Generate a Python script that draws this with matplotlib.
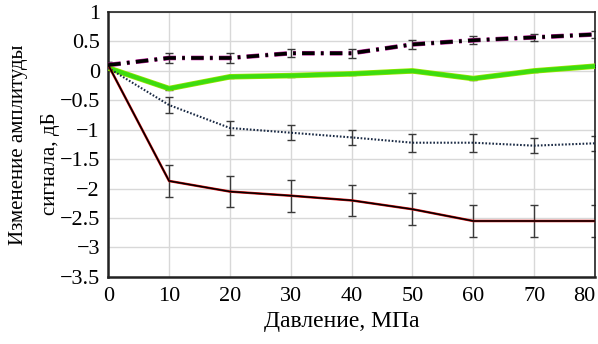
import matplotlib
matplotlib.use('Agg')
import matplotlib.pyplot as plt
import numpy as np

# pressure, MPa
pressure = [0, 10, 20, 30, 40, 50, 60, 70, 80]

# amplitude change, dB
dashdot_vals = [0.1, 0.22, 0.22, 0.3, 0.3, 0.45, 0.52, 0.57, 0.62]
dashdot_err = [0.05, 0.08, 0.08, 0.07, 0.08, 0.07, 0.07, 0.06, 0.06]

green_vals = [0.05, -0.3, -0.1, -0.08, -0.05, 0.0, -0.13, 0.0, 0.08]
green_err = [0.02, 0.02, 0.02, 0.02, 0.02, 0.02, 0.02, 0.02, 0.02]

dotted_vals = [0.05, -0.58, -0.97, -1.05, -1.13, -1.22, -1.22, -1.27, -1.23]
dotted_err = [0.05, 0.13, 0.12, 0.13, 0.13, 0.15, 0.15, 0.13, 0.13]

solid_vals = [0.1, -1.87, -2.05, -2.12, -2.2, -2.35, -2.55, -2.55, -2.55]
solid_err = [0.05, 0.27, 0.27, 0.27, 0.27, 0.27, 0.27, 0.27, 0.27]

ytick_labels = ['\u22123.5', '\u22123', '\u22122.5', '\u22122', '\u22121.5', '\u22121',
                '\u22120.5', '0', '0.5', '1']

plt.rcParams['font.family'] = ['Liberation Serif', 'DejaVu Serif']
plt.rcParams['lines.scale_dashes'] = False

fig = plt.figure(figsize=(5.98, 3.44), dpi=100)
ax = fig.add_axes([0.181, 0.195, 0.814, 0.77])

ekw = dict(ecolor='#3a3a3a', elinewidth=1.0, capsize=3, capthick=1.0, fmt='none', zorder=2)
ax.errorbar(pressure, dashdot_vals, yerr=dashdot_err, **ekw)
ax.errorbar(pressure, green_vals, yerr=green_err, **ekw)
ax.errorbar(pressure, dotted_vals, yerr=dotted_err, **ekw)
ax.errorbar(pressure, solid_vals, yerr=solid_err, **ekw)

# dash-dot line with a thin magenta rim
dd = (0, (9, 4.5, 2, 4.5))
ax.plot(pressure, dashdot_vals, color='#c0189a', lw=3.3, linestyle=dd, zorder=3)
ax.plot(pressure, dashdot_vals, color='black', lw=2.6, linestyle=dd, zorder=4)

ax.plot(pressure, green_vals, color='#9be600', lw=4.0, zorder=3)
ax.plot(pressure, green_vals, color='#3ddc10', lw=3.0, zorder=3)

ax.plot(pressure, dotted_vals, color='#1a2a44', lw=1.5, linestyle=(0, (1.2, 1.3)), zorder=3)

ax.plot(pressure, solid_vals, color='#dd1111', lw=1.8, zorder=3)
ax.plot(pressure, solid_vals, color='black', lw=1.1, zorder=4)

ax.set_xlim(0, 80)
ax.set_ylim(-3.5, 1)
ax.set_xticks(np.arange(0, 81, 10))
ax.set_yticks(np.arange(-3.5, 1.01, 0.5))
ax.set_yticklabels(ytick_labels)
ax.grid(True, color='#d8d8d8', lw=1.0)
ax.set_axisbelow(True)
ax.tick_params(axis='both', length=0, labelsize=16)
ax.tick_params(axis='x', pad=7)
ax.tick_params(axis='y', pad=6)
ax.get_xticklabels()[-1].set_horizontalalignment('right')
for s in ax.spines.values():
    s.set_color('#222222')
    s.set_linewidth(1.2)
ax.spines['left'].set_linewidth(1.8)
ax.spines['bottom'].set_linewidth(1.8)

ax.set_xlabel('Давление, МПа', fontsize=17, labelpad=3)
ax.xaxis.set_label_coords(0.48, -0.13)
fig.text(0.031, 0.58, 'Изменение амплитуды', rotation=90, fontsize=15,
         ha='center', va='center')
fig.text(0.084, 0.523, 'сигнала, дБ', rotation=90, fontsize=15,
         ha='center', va='center')

fig.savefig('out.png', dpi=100)
